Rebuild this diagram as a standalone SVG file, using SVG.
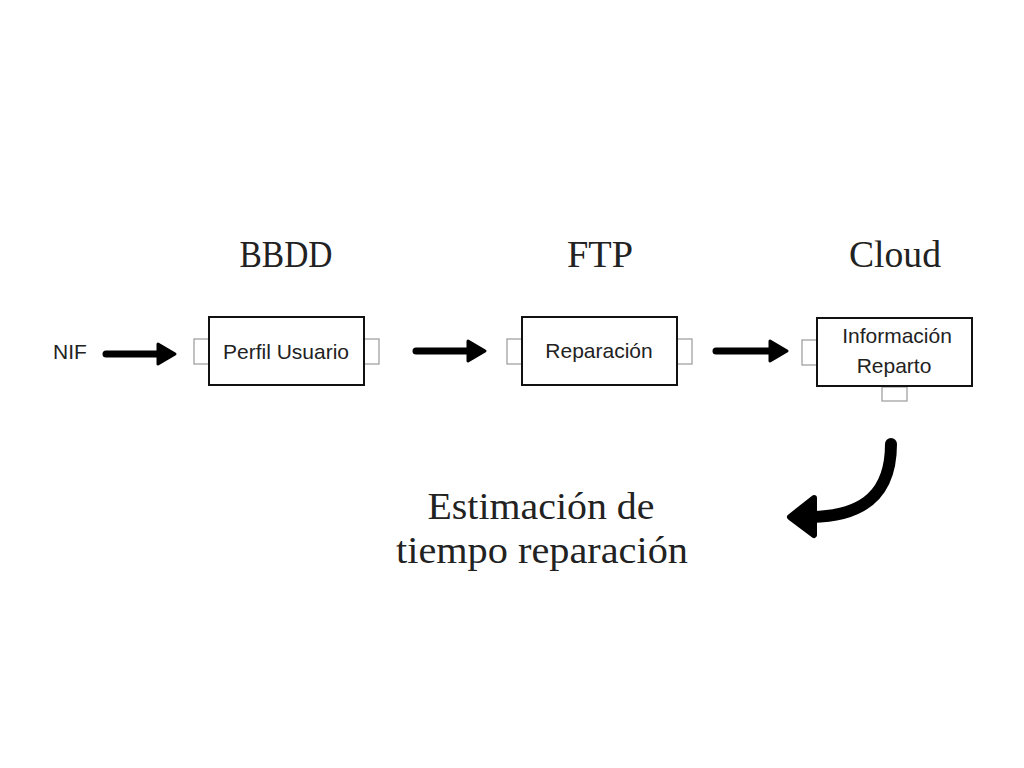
<svg xmlns="http://www.w3.org/2000/svg" width="1024" height="768" viewBox="0 0 1024 768">
<style>
.box{fill:#fff;stroke:#111;stroke-width:2}
.port{fill:#fff;stroke:#999;stroke-width:1.2}
.lbl{font-family:"Liberation Sans",Arial,sans-serif;font-size:21px;fill:#222;text-anchor:middle}
.head{font-family:"Liberation Serif","DejaVu Serif",serif;font-size:38px;fill:#222;text-anchor:middle}
.arr{fill:none;stroke:#000;stroke-width:7;stroke-linecap:round}
</style>
<rect width="1024" height="768" fill="#fff"/>
<text class="head" x="286" y="267" textLength="93" lengthAdjust="spacingAndGlyphs">BBDD</text>
<text class="head" x="600" y="267" textLength="66" lengthAdjust="spacingAndGlyphs">FTP</text>
<text class="head" x="895" y="267" textLength="92" lengthAdjust="spacingAndGlyphs">Cloud</text>
<g id="nif"><text class="lbl" x="70" y="359">NIF</text></g>
<g id="perfil">
<rect class="port" x="194" y="339" width="15" height="25"/>
<rect class="port" x="364" y="339" width="15" height="25"/>
<rect class="box" x="209" y="317" width="155" height="68"/>
<text class="lbl" x="286" y="359">Perfil Usuario</text>
</g>
<g id="reparacion">
<rect class="port" x="507" y="339" width="15" height="25"/>
<rect class="port" x="677" y="339" width="15" height="25"/>
<rect class="box" x="522" y="317" width="155" height="68"/>
<text class="lbl" x="599" y="358">Reparación</text>
</g>
<g id="info">
<rect class="port" x="802" y="340" width="15" height="25"/>
<rect class="port" x="882" y="387" width="25" height="14"/>
<rect class="box" x="817" y="318" width="155" height="68"/>
<text class="lbl" x="897" y="343">Información</text>
<text class="lbl" x="894" y="373">Reparto</text>
</g>
<g id="estimacion">
<text class="head" x="541" y="519" textLength="227" lengthAdjust="spacingAndGlyphs">Estimación de</text>
<text class="head" x="542" y="563" textLength="292" lengthAdjust="spacingAndGlyphs">tiempo reparación</text>
</g>
<g id="connectors">
<line class="arr" x1="106" y1="354" x2="160" y2="354"/>
<polygon points="158,344 175,354 158,364" fill="#000" stroke="#000" stroke-width="3" stroke-linejoin="round"/>
<line class="arr" x1="416" y1="351" x2="470" y2="351"/>
<polygon points="468,341 485,351 468,361" fill="#000" stroke="#000" stroke-width="3" stroke-linejoin="round"/>
<line class="arr" x1="716" y1="351" x2="772" y2="351"/>
<polygon points="770,341 787,351 770,361" fill="#000" stroke="#000" stroke-width="3" stroke-linejoin="round"/>
<path d="M891,444 C891,492 866,516 812,517" fill="none" stroke="#000" stroke-width="12" stroke-linecap="round"/>
<polygon points="814,498 790,517 814,535" fill="#000" stroke="#000" stroke-width="6" stroke-linejoin="round"/>
</g>
</svg>
